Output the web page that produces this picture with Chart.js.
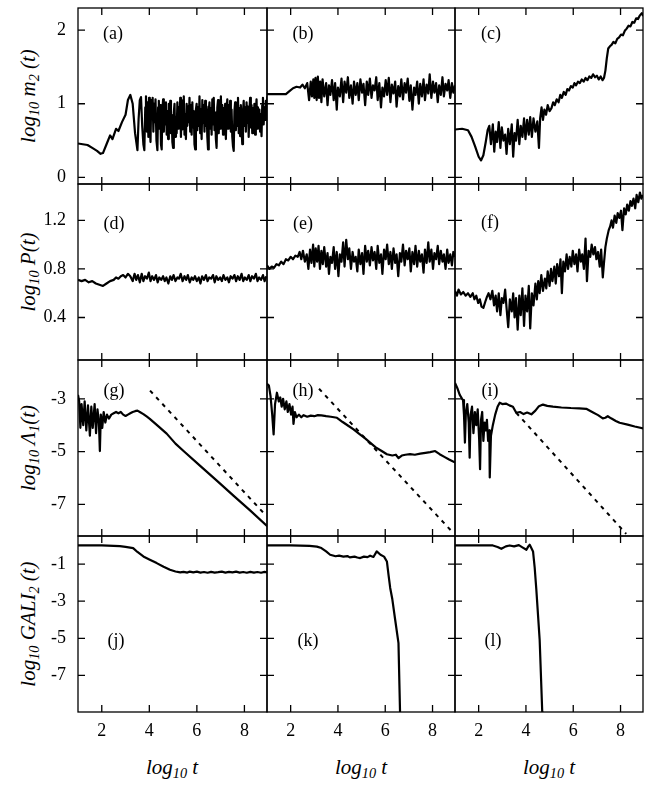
<!DOCTYPE html>
<html>
<head>
<meta charset="utf-8">
<script src="https://cdn.jsdelivr.net/npm/chart.js@4.4.0/dist/chart.umd.min.js"></script>
<style>
  body { margin:0; background:#fff; }
  #wrap { position:relative; width:650px; height:800px; overflow:hidden; }
  canvas { position:absolute; }
  .ttl { position:absolute; white-space:nowrap; font: italic 21px "Liberation Serif", "DejaVu Serif", serif; line-height:1; color:#000; }
  .ttl sub { font-size:0.68em; vertical-align:-0.3em; line-height:0; }
  .yt { transform: translate(-50%,-50%) rotate(-90deg); }
  .xt { transform: translate(-50%,-50%); }
</style>
</head>
<body>
<div id="wrap">
  <div class="ttl yt" style="left:28px;top:96px">log<sub>10</sub> m<sub>2</sub> (t)</div>
  <div class="ttl yt" style="left:28px;top:272px">log<sub>10</sub> P(t)</div>
  <div class="ttl yt" style="left:28px;top:448px">log<sub>10</sub> Λ<sub>1</sub>(t)</div>
  <div class="ttl yt" style="left:28px;top:624px">log<sub>10</sub> GALI<sub>2</sub> (t)</div>
  <div class="ttl xt" style="left:172px;top:767px">log<sub>10</sub> t</div>
  <div class="ttl xt" style="left:361px;top:767px">log<sub>10</sub> t</div>
  <div class="ttl xt" style="left:549px;top:767px">log<sub>10</sub> t</div>
</div>
<script>
// ---------- tick labels ----------
const xTicks = [2, 4, 6, 8];
const yTicksRow = [[0, 1, 2], [0.4, 0.8, 1.2], [-7, -5, -3], [-7, -5, -3, -1]];
const yRangeRow = [[-0.09, 2.30], [0.05, 1.50], [-8.2, -1.53], [-8.97, 0.51]];
const panelLabels = ['(a)','(b)','(c)','(d)','(e)','(f)','(g)','(h)','(i)','(j)','(k)','(l)'];

// ---------- series (x = log10 t, y = value) ----------
const m2_a = [[1,0.46],[1.2,0.45],[1.4,0.44],[1.6,0.40],[1.8,0.36],[1.95,0.32],[2.05,0.33],[2.2,0.45],[2.35,0.57],[2.45,0.52],[2.6,0.66],[2.7,0.63],[2.85,0.75],[3.0,0.85],[3.1,1.05],[3.2,1.12],[3.3,1.0],[3.4,0.6],
[3.50,0.37],[3.55,0.80],[3.60,1.05],[3.65,1.09],[3.70,0.70],[3.75,0.45],[3.79,0.37],[3.83,0.95],[3.86,1.10],[3.90,0.62],[3.93,1.02],[3.96,0.55],[3.99,1.08],[4.02,0.70],[4.05,0.48],[4.08,1.05],[4.11,0.80],[4.14,1.08],[4.17,0.62],[4.20,1.00],[4.23,0.75],[4.26,1.06],[4.30,0.50],[4.34,0.37],[4.37,0.95],[4.40,1.04],[4.43,0.66],[4.46,0.98],[4.49,0.45],[4.52,0.38],[4.55,0.92],[4.58,1.06],[4.61,0.62],[4.64,0.96],[4.67,0.72],[4.70,1.02],[4.73,0.58],[4.76,0.90],[4.79,0.52],[4.82,1.00],[4.85,0.70],[4.88,1.04],[4.91,0.60],[4.94,0.85],[4.97,0.48],[5.00,0.40],[5.03,0.88],[5.06,1.00],[5.09,0.55],[5.12,0.82],[5.15,0.60],[5.18,1.02],[5.21,0.66],[5.24,0.95],[5.27,0.72],[5.30,1.08],[5.33,0.55],[5.36,0.92],[5.39,0.65],[5.42,1.05],[5.45,1.10],[5.48,0.58],[5.51,0.86],[5.54,0.52],[5.57,1.00],[5.60,0.70],[5.63,0.96],[5.66,0.75],[5.69,1.08],[5.72,0.62],[5.75,0.98],[5.78,0.58],[5.81,1.02],[5.84,0.68],[5.87,0.90],[5.90,0.45],[5.93,0.38],[5.96,0.92],[5.99,1.00],[6.02,0.64],[6.05,0.95],[6.08,0.70],[6.11,1.10],[6.14,0.60],[6.17,0.92],[6.20,0.52],[6.23,1.05],[6.26,0.74],[6.29,0.98],[6.32,0.62],[6.35,1.04],[6.38,0.70],[6.41,0.96],[6.44,0.55],[6.47,0.38],[6.50,0.90],[6.53,1.02],[6.56,0.66],[6.59,0.94],[6.62,0.58],[6.65,1.06],[6.68,0.72],[6.71,1.08],[6.74,0.64],[6.77,0.88],[6.80,0.52],[6.83,0.40],[6.86,0.95],[6.89,1.05],[6.92,0.60],[6.95,0.96],[6.98,0.66],[7.01,1.10],[7.04,0.72],[7.07,0.98],[7.10,0.58],[7.13,0.94],[7.16,0.68],[7.19,1.00],[7.22,0.52],[7.25,0.90],[7.28,1.06],[7.31,0.66],[7.34,0.98],[7.37,0.74],[7.40,1.04],[7.43,0.62],[7.46,0.92],[7.49,0.55],[7.52,0.42],[7.55,0.36],[7.58,0.90],[7.61,1.02],[7.64,0.64],[7.67,0.96],[7.70,0.70],[7.73,1.08],[7.76,0.60],[7.79,0.94],[7.82,0.56],[7.85,0.98],[7.88,0.66],[7.91,0.45],[7.94,0.90],[7.97,1.04],[8.00,0.70],[8.03,0.95],[8.06,0.62],[8.09,1.02],[8.12,0.74],[8.15,0.96],[8.18,0.55],[8.21,0.90],[8.24,1.08],[8.27,0.68],[8.30,0.98],[8.33,0.60],[8.36,0.94],[8.39,0.72],[8.42,1.00],[8.45,0.58],[8.48,0.88],[8.51,1.06],[8.54,0.66],[8.57,0.95],[8.60,0.70],[8.63,0.92],[8.66,0.62],[8.69,0.86],[8.72,0.56],[8.75,0.98],[8.78,1.08],[8.81,0.72],[8.84,0.95],[8.87,0.78],[8.90,1.04],[8.93,0.85],[8.96,1.10]];

const m2_b = [[1.0,1.13],[1.4,1.13],[1.8,1.13],[1.95,1.17],[2.1,1.21],[2.25,1.23],[2.4,1.22],[2.5,1.26],[2.6,1.21],[2.7,1.28],[2.78,1.05],[2.85,1.30],[2.9,1.10],[2.96,1.33],[3.0,1.08],[3.05,1.35],[3.1,1.05],[3.15,1.37],[3.2,1.08],[3.25,1.30],[3.3,1.02],[3.35,1.33],[3.42,1.10],[3.5,1.28],[3.56,0.98],[3.62,1.25],[3.68,1.12],[3.75,1.32],[3.82,1.05],[3.88,1.28],[3.95,0.92],[4.0,1.22],[4.08,1.10],[4.15,1.34],[4.22,1.02],[4.28,1.30],[4.35,1.15],[4.42,1.36],[4.48,1.08],[4.55,1.25],[4.62,1.00],[4.68,1.30],[4.75,1.12],[4.82,1.28],[4.88,1.05],[4.95,1.33],[5.02,1.15],[5.08,1.27],[5.15,0.98],[5.22,1.30],[5.28,1.12],[5.35,1.34],[5.42,1.08],[5.48,1.25],[5.55,1.18],[5.62,1.36],[5.68,1.05],[5.75,1.28],[5.82,0.95],[5.88,1.22],[5.95,1.10],[6.02,1.32],[6.08,1.12],[6.15,1.35],[6.22,1.02],[6.28,1.26],[6.35,1.14],[6.42,1.30],[6.48,0.96],[6.55,1.24],[6.62,1.10],[6.68,1.33],[6.75,1.06],[6.82,1.28],[6.88,1.15],[6.95,1.34],[7.02,1.04],[7.08,1.25],[7.15,0.92],[7.22,1.22],[7.28,1.12],[7.35,1.30],[7.42,1.00],[7.48,1.27],[7.55,1.10],[7.62,1.33],[7.68,1.05],[7.75,1.26],[7.82,1.14],[7.88,1.40],[7.95,1.08],[8.02,1.30],[8.08,1.15],[8.15,1.28],[8.22,1.02],[8.28,1.25],[8.35,1.12],[8.42,1.36],[8.48,1.10],[8.55,1.27],[8.62,1.18],[8.68,1.32],[8.75,1.08],[8.82,1.28],[8.88,1.15],[8.95,1.25]];

const m2_c = [[1.0,0.65],[1.3,0.66],[1.55,0.64],[1.7,0.55],[1.85,0.42],[2.0,0.28],[2.1,0.23],[2.2,0.30],[2.3,0.48],[2.38,0.64],[2.45,0.70],[2.52,0.45],[2.6,0.72],[2.66,0.35],[2.72,0.62],[2.78,0.48],[2.85,0.75],[2.92,0.40],[2.98,0.68],[3.05,0.50],[3.12,0.58],[3.18,0.32],[3.25,0.66],[3.32,0.45],[3.4,0.72],[3.46,0.28],[3.52,0.60],[3.58,0.50],[3.65,0.78],[3.72,0.45],[3.78,0.70],[3.85,0.55],[3.92,0.80],[3.98,0.52],[4.05,0.78],[4.12,0.58],[4.18,0.82],[4.25,0.55],[4.32,0.80],[4.4,0.62],[4.48,0.76],[4.55,0.40],[4.6,0.80],[4.66,0.95],[4.72,0.78],[4.78,0.92],[4.85,0.85],[4.92,0.98],[5.0,0.90],[5.08,0.94],[5.15,1.02],[5.22,0.98],[5.3,1.06],[5.38,1.02],[5.45,1.12],[5.52,1.08],[5.6,1.16],[5.68,1.12],[5.75,1.20],[5.82,1.18],[5.9,1.24],[5.98,1.22],[6.05,1.28],[6.12,1.25],[6.2,1.30],[6.28,1.28],[6.36,1.33],[6.44,1.30],[6.52,1.35],[6.6,1.32],[6.68,1.37],[6.76,1.35],[6.84,1.40],[6.92,1.36],[7.0,1.38],[7.08,1.33],[7.16,1.37],[7.24,1.32],[7.3,1.35],[7.36,1.45],[7.42,1.62],[7.48,1.75],[7.55,1.78],[7.62,1.80],[7.7,1.84],[7.78,1.82],[7.86,1.88],[7.94,1.90],[8.02,1.94],[8.1,1.93],[8.18,1.99],[8.26,2.02],[8.34,2.06],[8.42,2.05],[8.5,2.11],[8.58,2.10],[8.66,2.16],[8.74,2.15],[8.82,2.20],[8.9,2.23],[8.96,2.19]];

const P_d = [[1.0,0.71],[1.15,0.70],[1.3,0.71],[1.45,0.69],[1.6,0.70],[1.75,0.68],[1.9,0.67],[2.05,0.66],[2.2,0.68],[2.35,0.70],[2.5,0.71],[2.6,0.73],[2.7,0.72],[2.8,0.74],[2.9,0.75],[3.0,0.73],[3.1,0.76],[3.2,0.74],[3.3,0.70],[3.38,0.76],[3.45,0.71],[3.52,0.75],[3.6,0.69],[3.68,0.76],[3.75,0.70],[3.82,0.74],[3.9,0.72],[3.98,0.77],[4.05,0.70],[4.12,0.74],[4.2,0.71],[4.28,0.75],[4.35,0.69],[4.42,0.73],[4.5,0.71],[4.58,0.74],[4.65,0.70],[4.72,0.73],[4.8,0.68],[4.88,0.74],[4.95,0.71],[5.02,0.75],[5.1,0.70],[5.18,0.73],[5.25,0.72],[5.32,0.76],[5.4,0.70],[5.48,0.74],[5.55,0.71],[5.62,0.75],[5.7,0.69],[5.78,0.73],[5.85,0.71],[5.92,0.74],[6.0,0.70],[6.08,0.73],[6.15,0.68],[6.22,0.74],[6.3,0.71],[6.38,0.75],[6.45,0.70],[6.52,0.73],[6.6,0.72],[6.68,0.75],[6.75,0.69],[6.82,0.74],[6.9,0.71],[6.98,0.73],[7.05,0.70],[7.12,0.75],[7.2,0.71],[7.28,0.73],[7.35,0.69],[7.42,0.74],[7.5,0.72],[7.58,0.75],[7.65,0.70],[7.72,0.74],[7.8,0.71],[7.88,0.76],[7.95,0.70],[8.02,0.73],[8.1,0.71],[8.18,0.75],[8.25,0.70],[8.32,0.74],[8.4,0.72],[8.48,0.76],[8.55,0.70],[8.62,0.73],[8.7,0.71],[8.78,0.75],[8.85,0.70],[8.92,0.74]];

const P_e = [[1.0,0.83],[1.1,0.80],[1.2,0.82],[1.3,0.81],[1.4,0.84],[1.5,0.83],[1.6,0.86],[1.7,0.84],[1.8,0.88],[1.9,0.87],[2.0,0.90],[2.1,0.88],[2.2,0.91],[2.3,0.90],[2.38,0.94],[2.45,0.88],[2.52,0.95],[2.6,0.86],[2.68,0.92],[2.75,0.80],[2.82,0.96],[2.88,0.85],[2.95,1.00],[3.0,0.82],[3.06,0.97],[3.12,0.86],[3.18,0.99],[3.24,0.80],[3.3,0.95],[3.36,0.84],[3.42,0.98],[3.5,0.82],[3.56,0.93],[3.62,0.76],[3.68,0.90],[3.75,0.85],[3.82,0.98],[3.88,0.80],[3.95,0.94],[4.02,0.74],[4.08,0.92],[4.15,0.86],[4.22,1.02],[4.28,0.82],[4.35,1.04],[4.42,0.88],[4.48,0.97],[4.55,0.80],[4.62,0.94],[4.68,0.86],[4.75,0.90],[4.82,0.78],[4.88,0.96],[4.95,0.84],[5.02,0.93],[5.08,0.76],[5.15,0.99],[5.22,0.86],[5.28,0.95],[5.35,0.83],[5.42,0.98],[5.48,0.87],[5.55,0.94],[5.62,0.80],[5.68,0.99],[5.75,0.85],[5.82,0.92],[5.88,0.76],[5.95,0.96],[6.02,0.88],[6.08,1.00],[6.15,0.84],[6.22,0.94],[6.28,0.80],[6.35,0.97],[6.42,0.85],[6.48,0.92],[6.55,0.74],[6.62,0.93],[6.68,0.86],[6.75,1.00],[6.82,0.83],[6.88,0.95],[6.95,0.88],[7.02,0.97],[7.08,0.78],[7.15,0.94],[7.22,0.84],[7.28,0.99],[7.35,0.82],[7.42,0.95],[7.48,0.86],[7.55,0.92],[7.62,0.77],[7.68,0.96],[7.75,0.85],[7.82,1.02],[7.88,0.86],[7.95,0.96],[8.02,0.80],[8.08,0.93],[8.15,0.88],[8.22,0.99],[8.28,0.84],[8.35,0.95],[8.42,0.86],[8.48,0.92],[8.55,0.80],[8.62,0.96],[8.68,0.85],[8.75,0.92],[8.82,0.83],[8.88,0.94],[8.95,0.90]];

const P_f = [[1.0,0.62],[1.08,0.58],[1.15,0.63],[1.25,0.59],[1.35,0.61],[1.45,0.58],[1.55,0.60],[1.65,0.57],[1.75,0.60],[1.82,0.55],[1.9,0.58],[1.98,0.52],[2.05,0.55],[2.12,0.49],[2.2,0.48],[2.28,0.53],[2.35,0.57],[2.42,0.60],[2.5,0.55],[2.58,0.62],[2.65,0.50],[2.72,0.58],[2.78,0.45],[2.85,0.60],[2.92,0.42],[2.98,0.56],[3.05,0.52],[3.12,0.63],[3.18,0.48],[3.25,0.32],[3.32,0.55],[3.4,0.45],[3.46,0.60],[3.52,0.40],[3.58,0.56],[3.65,0.30],[3.72,0.58],[3.78,0.42],[3.85,0.64],[3.92,0.33],[3.98,0.58],[4.05,0.45],[4.12,0.66],[4.18,0.31],[4.25,0.60],[4.32,0.50],[4.4,0.68],[4.46,0.55],[4.52,0.70],[4.58,0.60],[4.65,0.75],[4.72,0.62],[4.8,0.72],[4.86,0.64],[4.92,0.78],[5.0,0.66],[5.06,0.80],[5.12,0.70],[5.2,0.82],[5.26,0.68],[5.32,0.84],[5.4,0.74],[5.46,0.88],[5.52,0.60],[5.58,0.86],[5.65,0.78],[5.72,0.92],[5.78,0.80],[5.85,0.90],[5.92,0.82],[5.98,0.95],[6.05,0.84],[6.12,0.92],[6.18,0.78],[6.25,0.96],[6.32,0.86],[6.38,0.92],[6.45,0.80],[6.52,1.05],[6.58,0.70],[6.65,0.95],[6.72,0.90],[6.78,1.00],[6.85,0.92],[6.92,0.98],[6.98,0.88],[7.05,0.94],[7.12,0.82],[7.18,0.96],[7.25,0.73],[7.3,0.85],[7.36,0.98],[7.42,1.05],[7.5,1.12],[7.56,1.15],[7.62,1.20],[7.68,1.14],[7.75,1.24],[7.82,1.18],[7.88,1.26],[7.95,1.22],[8.02,1.28],[8.08,1.12],[8.15,1.30],[8.22,1.25],[8.28,1.33],[8.35,1.28],[8.42,1.36],[8.48,1.32],[8.55,1.38],[8.62,1.30],[8.68,1.41],[8.75,1.35],[8.82,1.43],[8.88,1.38],[8.95,1.41]];

const L1_g = [[1.0,-2.85],[1.05,-3.1],[1.1,-4.1],[1.15,-3.2],[1.22,-4.0],[1.28,-3.1],[1.35,-4.2],[1.42,-3.25],[1.5,-4.4],[1.56,-3.3],[1.62,-4.1],[1.7,-3.2],[1.76,-4.3],[1.82,-3.4],[1.88,-3.9],[1.92,-4.98],[1.96,-3.6],[2.02,-4.1],[2.08,-3.5],[2.15,-3.9],[2.22,-3.6],[2.3,-3.75],[2.4,-3.6],[2.5,-3.55],[2.6,-3.5],[2.7,-3.55],[2.8,-3.5],[2.9,-3.6],[3.0,-3.65],[3.1,-3.6],[3.2,-3.55],[3.3,-3.5],[3.4,-3.47],[3.5,-3.45],[3.6,-3.5],[3.75,-3.58],[3.9,-3.68],[4.02,-3.76],[4.3,-3.98],[4.73,-4.32],[5.1,-4.7],[5.44,-4.98],[6.14,-5.54],[6.85,-6.11],[7.55,-6.68],[8.25,-7.24],[8.96,-7.83]];
const L1_g_ref = [[4.03,-2.69],[8.82,-7.34]];

const L1_h = [[1.0,-2.43],[1.08,-2.5],[1.15,-2.9],[1.22,-3.6],[1.28,-4.35],[1.34,-3.2],[1.42,-2.77],[1.5,-3.1],[1.56,-2.95],[1.62,-3.3],[1.68,-3.0],[1.75,-3.4],[1.82,-3.1],[1.88,-3.5],[1.95,-3.2],[2.02,-3.6],[2.08,-3.3],[2.12,-3.95],[2.18,-3.5],[2.25,-3.7],[2.35,-3.6],[2.45,-3.7],[2.55,-3.62],[2.7,-3.68],[2.85,-3.64],[3.0,-3.66],[3.15,-3.62],[3.3,-3.63],[3.5,-3.66],[3.7,-3.68],[3.96,-3.72],[4.2,-3.88],[4.45,-4.03],[4.66,-4.16],[4.9,-4.33],[5.15,-4.5],[5.36,-4.66],[5.6,-4.84],[5.85,-4.98],[6.07,-5.1],[6.3,-5.15],[6.45,-5.12],[6.56,-5.25],[6.7,-5.15],[6.85,-5.12],[7.05,-5.1],[7.25,-5.12],[7.48,-5.08],[7.7,-5.05],[7.9,-5.02],[8.11,-4.98],[8.3,-5.1],[8.5,-5.2],[8.7,-5.3],[8.96,-5.42]];
const L1_h_ref = [[3.2,-2.62],[8.84,-8.05]];

const L1_i = [[1.0,-2.4],[1.1,-2.6],[1.2,-2.85],[1.3,-3.0],[1.34,-3.05],[1.38,-3.6],[1.42,-4.66],[1.46,-3.5],[1.52,-3.2],[1.58,-3.9],[1.62,-5.23],[1.66,-3.6],[1.72,-3.3],[1.78,-4.3],[1.84,-3.5],[1.9,-4.0],[1.96,-3.4],[2.02,-4.5],[2.06,-5.67],[2.1,-3.8],[2.15,-3.5],[2.2,-4.6],[2.25,-3.9],[2.3,-4.2],[2.35,-3.8],[2.4,-4.6],[2.45,-4.2],[2.47,-5.98],[2.52,-4.4],[2.6,-4.0],[2.7,-3.6],[2.8,-3.3],[2.89,-3.15],[3.0,-3.2],[3.15,-3.18],[3.3,-3.25],[3.45,-3.3],[3.59,-3.53],[3.75,-3.5],[3.9,-3.58],[4.05,-3.52],[4.23,-3.59],[4.4,-3.45],[4.55,-3.28],[4.72,-3.22],[4.9,-3.27],[5.14,-3.3],[5.5,-3.33],[5.9,-3.35],[6.25,-3.36],[6.55,-3.38],[6.8,-3.5],[7.05,-3.62],[7.25,-3.74],[7.36,-3.72],[7.46,-3.66],[7.6,-3.74],[7.8,-3.84],[7.96,-3.91],[8.3,-3.98],[8.6,-4.05],[8.96,-4.12]];
const L1_i_ref = [[3.59,-3.53],[8.24,-8.12]];

const G2_j = [[1.0,0.0],[1.5,0.0],[2.0,0.0],[2.5,-0.02],[2.76,-0.04],[3.0,-0.08],[3.32,-0.14],[3.5,-0.35],[3.75,-0.59],[4.0,-0.75],[4.31,-0.95],[4.6,-1.15],[4.87,-1.31],[5.1,-1.40],[5.3,-1.45],[5.44,-1.42],[5.6,-1.46],[5.7,-1.41],[5.85,-1.45],[6.0,-1.41],[6.15,-1.46],[6.3,-1.43],[6.45,-1.47],[6.6,-1.42],[6.75,-1.46],[6.9,-1.44],[7.05,-1.41],[7.2,-1.46],[7.35,-1.42],[7.5,-1.45],[7.65,-1.41],[7.8,-1.46],[7.95,-1.43],[8.1,-1.47],[8.25,-1.42],[8.4,-1.46],[8.55,-1.43],[8.7,-1.47],[8.85,-1.42],[8.96,-1.45]];

const G2_k = [[1.0,0.0],[2.0,0.0],[2.8,-0.02],[3.11,-0.06],[3.3,-0.14],[3.5,-0.32],[3.67,-0.5],[3.9,-0.58],[4.05,-0.55],[4.23,-0.6],[4.4,-0.57],[4.5,-0.64],[4.7,-0.6],[4.82,-0.65],[4.94,-0.68],[5.1,-0.6],[5.25,-0.63],[5.36,-0.55],[5.5,-0.62],[5.64,-0.32],[5.8,-0.5],[5.95,-0.6],[6.07,-0.86],[6.14,-1.6],[6.21,-2.29],[6.3,-2.9],[6.42,-4.0],[6.56,-5.26],[6.63,-9.2],[6.66,-10]];

const G2_l = [[1.0,0.0],[2.0,0.0],[2.6,0.0],[2.8,-0.08],[2.96,-0.18],[3.15,-0.05],[3.31,0.0],[3.5,-0.05],[3.7,0.02],[3.85,-0.1],[4.02,-0.23],[4.1,-0.05],[4.16,0.04],[4.3,-0.32],[4.37,-1.2],[4.44,-2.39],[4.58,-5.08],[4.69,-9.0],[4.72,-10]];

// ---------- layout ----------
const colL = [78, 267, 455], colR = [267, 455, 643];
const rowT = [8, 184, 360, 536], rowB = [184, 360, 536, 712];
const M = 5;
const labelOffsets = [[35,26],[36,26],[36,26],[36,40],[36,40],[35,39],[36,31],[36,31],[35,31],[38,105],[41,105],[38,105]];

const panelSeries = [
  [m2_a],[m2_b],[m2_c],
  [P_d],[P_e],[P_f],
  [L1_g, L1_g_ref],[L1_h, L1_h_ref],[L1_i, L1_i_ref],
  [G2_j],[G2_k],[G2_l]
];

const SERIF = '"Liberation Serif", "DejaVu Serif", serif';

const framePlugin = {
  id: 'frame',
  afterDatasetsDraw(chart, args, o) {
    const {ctx, chartArea: a} = chart;
    const xs = chart.scales.x, ys = chart.scales.y;
    ctx.save();
    ctx.strokeStyle = '#000';
    ctx.lineWidth = 1.3;
    ctx.strokeRect(a.left, a.top, a.right - a.left, a.bottom - a.top);
    ctx.beginPath();
    xTicks.forEach(v => {
      const p = xs.getPixelForValue(v);
      ctx.moveTo(p, a.bottom); ctx.lineTo(p, a.bottom - 7);
      ctx.moveTo(p, a.top); ctx.lineTo(p, a.top + 7);
    });
    o.yTicks.forEach(v => {
      const p = ys.getPixelForValue(v);
      ctx.moveTo(a.left, p); ctx.lineTo(a.left + 7, p);
      ctx.moveTo(a.right, p); ctx.lineTo(a.right - 7, p);
    });
    ctx.stroke();
    ctx.fillStyle = '#000';
    ctx.font = '18px ' + SERIF;
    ctx.textAlign = 'center';
    ctx.textBaseline = 'middle';
    ctx.fillText(o.label, a.left + o.dx, a.top + o.dy);
    ctx.restore();
  }
};

function zeroPad(s) { s.paddingTop = 0; s.paddingBottom = 0; s.paddingLeft = 0; s.paddingRight = 0; }

const wrap = document.getElementById('wrap');
for (let r = 0; r < 4; r++) {
  for (let c = 0; c < 3; c++) {
    const idx = r * 3 + c;
    const showX = r === 3, showY = c === 0;
    const left = showY ? 0 : colL[c] - M;
    const top = rowT[r] - M;
    const w = colR[c] + M - left;
    const h = (showX ? rowB[r] + 40 : rowB[r] + M) - top;
    const cv = document.createElement('canvas');
    cv.width = w; cv.height = h;
    cv.style.left = left + 'px'; cv.style.top = top + 'px';
    cv.style.width = w + 'px'; cv.style.height = h + 'px';
    wrap.appendChild(cv);

    const yT = yTicksRow[r];
    const datasets = panelSeries[idx].map((d, k) => ({
      data: d,
      borderColor: '#000',
      borderWidth: k === 0 ? 2.2 : 2,
      borderDash: k === 0 ? [] : [4, 5],
      borderJoinStyle: 'round',
      pointRadius: 0,
      tension: 0,
      fill: false
    }));

    new Chart(cv, {
      type: 'line',
      data: { datasets },
      options: {
        responsive: false,
        animation: false,
        devicePixelRatio: 1,
        layout: { padding: { left: showY ? 0 : M, right: M, top: M, bottom: showX ? 0 : M } },
        plugins: {
          legend: { display: false },
          tooltip: { enabled: false },
          frame: { yTicks: yT, label: panelLabels[idx], dx: labelOffsets[idx][0], dy: labelOffsets[idx][1] }
        },
        scales: {
          x: {
            type: 'linear', min: 1, max: 8.95,
            display: showX,
            afterBuildTicks: s => { s.ticks = xTicks.map(v => ({ value: v })); },
            afterFit: s => { if (showX) s.height = 40; zeroPad(s); },
            grid: { display: false, drawTicks: false },
            border: { display: false },
            ticks: { color: '#000', font: { family: SERIF, size: 18 }, padding: 8, maxRotation: 0, autoSkip: false, callback: v => String(v) }
          },
          y: {
            type: 'linear', min: yRangeRow[r][0], max: yRangeRow[r][1],
            display: showY,
            afterBuildTicks: s => { s.ticks = yT.map(v => ({ value: v })); },
            afterFit: s => { if (showY) s.width = colL[0]; zeroPad(s); },
            grid: { display: false, drawTicks: false },
            border: { display: false },
            ticks: { color: '#000', font: { family: SERIF, size: 18 }, padding: 12, autoSkip: false,
              callback: v => (r === 1 ? Number(v).toFixed(1) : String(v)) }
          }
        }
      },
      plugins: [framePlugin]
    });
  }
}
</script>
</body>
</html>
